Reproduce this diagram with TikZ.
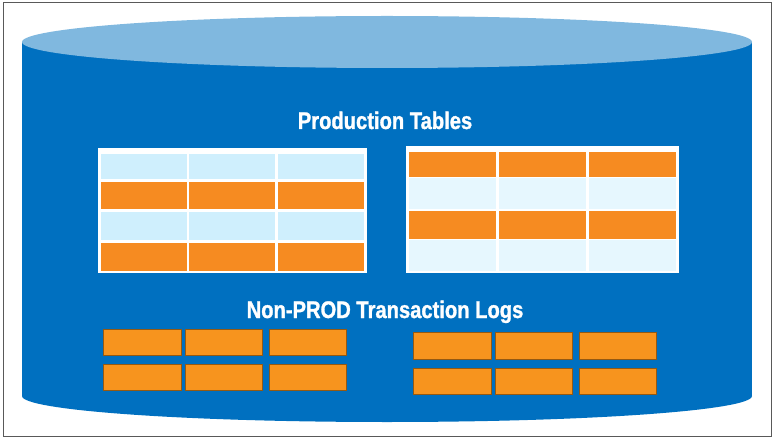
\documentclass[tikz,border=0pt]{standalone}
\usepackage{fontspec}
\newfontfamily\labelfont[FakeStretch=0.84, BoldFeatures={FakeBold=1.2}]{Liberation Sans}
\definecolor{dbblue}{HTML}{0070C0}
\definecolor{dbtop}{HTML}{80B8DF}
\definecolor{cellorange}{HTML}{F68B21}
\definecolor{logorange}{HTML}{F7941E}
\definecolor{cellpale}{HTML}{CFEFFD}
\definecolor{cellpaler}{HTML}{E6F7FE}
\tikzset{
  framebox/.style={draw=black!65, line width=1pt},
  tablebg/.style={fill=white},
  orangecell/.style={fill=cellorange},
  palecell/.style={fill=cellpale},
  palercell/.style={fill=cellpaler},
  logcell/.style={fill=logorange, draw=black!40!logorange, line width=0.5pt},
  heading/.style={text=white, font=\labelfont\bfseries\fontsize{24}{28}\selectfont, anchor=base, inner sep=0pt},
}
\begin{document}
\begin{tikzpicture}[x=1pt,y=-1pt]
\useasboundingbox (0,0) rectangle (773,438);
% outer frame
\draw[framebox] (3,3) rectangle (771,436);
% database cylinder: body, bottom rim, top face
\fill[dbblue] (22,42) rectangle (752,396);
\fill[dbblue] (387,396) ellipse [x radius=365, y radius=26];
\fill[dbtop] (387,42) ellipse [x radius=365, y radius=26];
% headings
\node[heading] (prodtitle) at (385,129) {Production Tables};
\node[heading] (logtitle) at (385,318) {Non-PROD Transaction Logs};
% left production table
\fill[tablebg] (98,148) rectangle (367,273);
\foreach \ya/\yb/\st in {154/179/palecell, 182/209/orangecell, 212/240/palecell, 243/271/orangecell}
  \foreach \xa/\xb in {101/187, 189/275, 278/364}
    \fill[\st] (\xa,\ya) rectangle (\xb,\yb);
% right production table
\fill[tablebg] (406,146) rectangle (679,273);
\foreach \ya/\yb/\st in {152/177/orangecell, 178/209/palercell, 211/239/orangecell, 240/271/palercell}
  \foreach \xa/\xb in {409/496, 499/586, 589/676}
    \fill[\st] (\xa,\ya) rectangle (\xb,\yb);
% transaction log blocks
\foreach \ya/\yb in {329/355, 364/390}
  \foreach \xa/\xb in {103/181, 185/262, 269/346}
    \draw[logcell] (\xa,\ya) rectangle (\xb,\yb);
\foreach \ya/\yb in {332/359, 368/394}
  \foreach \xa/\xb in {413/491, 495/572, 579/656}
    \draw[logcell] (\xa,\ya) rectangle (\xb,\yb);
\end{tikzpicture}
\end{document}
